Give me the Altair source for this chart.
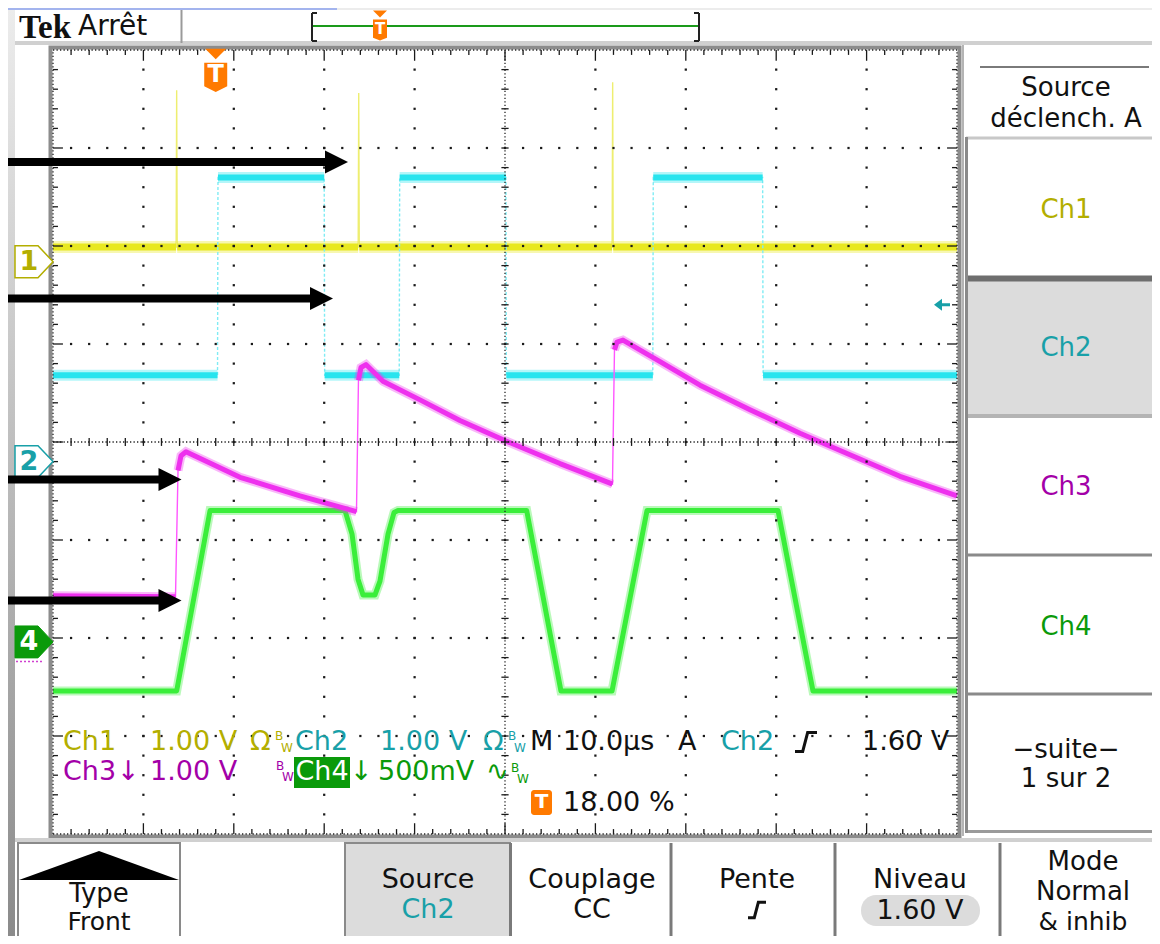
import altair as alt
import numpy as np
import pandas as pd

FONT = "DejaVu Sans"

CHANNELS = ["Ch1", "Ch2", "Ch3", "Ch4"]
VOLTS_PER_DIV = [1.00, 1.00, 1.00, 0.50]
GROUND_DIV = [1.84, -0.20, -2.24, -2.04]      # ground marker positions, divisions from centre
TRIGGER_POS_PCT = 18.0
TRIGGER_LEVEL_V = 1.60

# time in microseconds from the left edge of the screen (10 us/div), volts
ch1_t = [0, 13.62, 13.68, 13.74, 33.76, 33.82, 33.88, 61.85, 61.91, 61.97, 100]
ch1_v = [0.15, 0.15, 1.75, 0.15, 0.15, 1.72, 0.15, 0.15, 1.83, 0.15, 0.15]

ch2_t = [0, 18.2, 18.25, 30.0, 30.05, 38.3, 38.35, 50.1, 50.15, 66.35, 66.4, 78.5, 78.55, 100]
ch2_v = [0.88, 0.88, 2.90, 2.90, 0.88, 0.88, 2.90, 2.90, 0.88, 0.88, 2.90, 2.90, 0.88, 0.88]

ch3_t = [0, 13.55, 13.83, 14.16, 14.71, 20.69, 27.32, 33.57, 33.79, 34.07, 34.62, 36.50, 40.60,
         45.02, 50.11, 56.08, 61.62, 61.89, 62.11, 62.39, 63.05, 67.15, 71.57, 77.10, 82.63,
         88.16, 93.69, 100]
ch3_v = [0.67, 0.66, 1.95, 2.10, 2.14, 1.88, 1.69, 1.53, 2.87, 3.00, 3.03, 2.86, 2.67,
         2.46, 2.25, 2.02, 1.82, 1.81, 3.18, 3.26, 3.28, 3.06, 2.82, 2.57, 2.33,
         2.11, 1.89, 1.69]

ch4_t = [0, 13.68, 17.37, 32.30, 33.08, 33.74, 34.29, 35.62, 36.17, 37.06, 37.72, 38.16,
         52.40, 56.19, 61.84, 65.71, 80.20, 84.07, 100]
ch4_v = [-0.25, -0.25, 0.67, 0.67, 0.55, 0.32, 0.24, 0.24, 0.31, 0.55, 0.66, 0.67,
         0.67, -0.25, -0.25, 0.67, 0.67, -0.25, -0.25]

TRACES = [(ch1_t, ch1_v), (ch2_t, ch2_v), (ch3_t, ch3_v), (ch4_t, ch4_v)]

# ---------------- styling ----------------
OX, OY = 53, 50            # page position of the graticule's top-left corner
W, H = 904, 784
XS = alt.Scale(domain=[0, 100], nice=False, zero=False)
YS = alt.Scale(domain=[-4, 4], nice=False, zero=False)
FAST = 3.0                 # div/us: faster edges are drawn as thin lines

TRACE_COL = ["#e8e820", "#28e4ee", "#ee30ee", "#3aee3a"]
THIN_COL = ["#eeee70", "#80ecf4", "#ff55ff", "#3aee3a"]
CORE_W = [7, 6, 5, 5]
BAND_W = [12, 11, 9, 9]
TXT_COL = ["#b3ae00", "#18a0a8", "#a300a8", "#0a9a0a"]
ORANGE = "#ff7a00"
ONE = pd.DataFrame({"k": [0]})


def X(f="t"):
    return alt.X(f"{f}:Q", scale=XS, axis=None)


def Y(f="d"):
    return alt.Y(f"{f}:Q", scale=YS, axis=None)


def P(x, y):
    return dict(x=alt.value(x - OX), y=alt.value(y - OY))


def text(s, x, y, color="#111111", size=27, align="center", weight="normal", font=FONT,
         baseline="middle"):
    return alt.Chart(ONE).mark_text(text=s, align=align, baseline=baseline, fontSize=size,
                                    font=font, fontWeight=weight, color=color).encode(**P(x, y))


def rect(x1, y1, x2, y2, fill="#ffffff", stroke=None, sw=1, r=0, fo=1):
    kw = dict(fill=fill, fillOpacity=fo)
    if stroke:
        kw.update(stroke=stroke, strokeWidth=sw)
    if r:
        kw["cornerRadius"] = r
    return alt.Chart(ONE).mark_rect(**kw).encode(
        x=alt.value(x1 - OX), x2=alt.value(x2 - OX), y=alt.value(y1 - OY), y2=alt.value(y2 - OY))


def line(x1, y1, x2, y2, color, sw=2, dash=None):
    kw = dict(color=color, strokeWidth=sw)
    if dash:
        kw["strokeDash"] = dash
    return alt.Chart(ONE).mark_rule(**kw).encode(
        x=alt.value(x1 - OX), x2=alt.value(x2 - OX), y=alt.value(y1 - OY), y2=alt.value(y2 - OY))


def sym(path, x, y, width, fill=None, stroke=None, sw=1):
    kw = dict(shape=path, size=width * width, opacity=1)
    if fill:
        kw.update(filled=True, fill=fill)
    else:
        kw.update(filled=False, fill="transparent")
    if stroke:
        kw.update(stroke=stroke, strokeWidth=sw)
    else:
        kw.update(strokeWidth=0)
    return alt.Chart(ONE).mark_point(**kw).encode(**P(x, y))


def trace_frames(t, v, vdiv, gnd):
    d = [gnd + vv / vdiv for vv in v]
    full = pd.DataFrame({"t": t, "d": d, "i": range(len(t))})
    rows, seg, cur = [], 0, [(t[0], d[0])]
    for k in range(1, len(t)):
        dt = t[k] - t[k - 1]
        rate = abs(d[k] - d[k - 1]) / dt if dt > 0 else np.inf
        if rate > FAST:
            if len(cur) > 1:
                rows += [(seg, j, a, b) for j, (a, b) in enumerate(cur)]
                seg += 1
            cur = [(t[k], d[k])]
        else:
            cur.append((t[k], d[k]))
    if len(cur) > 1:
        rows += [(seg, j, a, b) for j, (a, b) in enumerate(cur)]
    slow = pd.DataFrame(rows, columns=["seg", "i", "t", "d"])
    return full, slow


layers = []

# ---------------- chrome backgrounds ----------------
grad = alt.LinearGradient(gradient="linear", x1=0, y1=0, x2=0, y2=1,
                          stops=[alt.GradientStop(color="#ececec", offset=0),
                                 alt.GradientStop(color="#8a8a8a", offset=1)])
layers += [
    rect(0, 0, 1160, 10, "#ececec"),
    rect(0, 0, 337, 10, "#a3b4ee"),
    rect(0, 10, 15, 944, grad),
    rect(15, 41, 1160, 45, "#d0d0d0"),
    line(181.5, 10, 181.5, 43, "#9a9a9a", 2),
    # record bar
    line(312, 26, 699, 26, "#1a9a1a", 2),
    line(312, 13, 312, 41, "#222222", 2), line(312, 13, 317, 13, "#222222", 2),
    line(312, 41, 317, 41, "#222222", 2),
    line(699, 13, 699, 41, "#222222", 2), line(694, 13, 699, 13, "#222222", 2),
    line(694, 41, 699, 41, "#222222", 2),
    # graticule frame
    rect(50.5, 47.5, 959.5, 836.5, "#ffffff", stroke="#8c8c8c", sw=4, fo=0),
    # right side panel
    line(963, 45, 963, 836, "#b4b4b4", 2),
    line(980, 67, 1149, 67, "#7a7a7a", 2),
    rect(966, 281, 1160, 414, "#dcdcdc"),
    line(966, 138, 1160, 138, "#c8c8c8", 3),
    line(966, 278.5, 1160, 278.5, "#6e6e6e", 6),
    line(966, 416, 1160, 416, "#b4b4b4", 4),
    line(966, 555, 1160, 555, "#8a8a8a", 3),
    line(966, 694, 1160, 694, "#8a8a8a", 3),
    line(966, 831.5, 1160, 831.5, "#9a9a9a", 3),
    line(966.5, 137, 966.5, 833, "#8a8a8a", 3),
    # bottom buttons
    line(15, 840, 1160, 840, "#d0d0d0", 4),
    rect(18, 843, 180, 950, "#ffffff", stroke="#8a8a8a", sw=2),
    rect(345, 843, 510, 950, "#dcdcdc", stroke="#8a8a8a", sw=2),
    line(510.5, 843, 510.5, 944, "#7a7a7a", 3),
    line(671, 843, 671, 944, "#7a7a7a", 3),
    line(835, 843, 835, 944, "#7a7a7a", 3),
    line(1000, 843, 1000, 944, "#7a7a7a", 3),
    rect(861, 895, 980, 926, "#dcdcdc", r=15),
]

# ---------------- traces ----------------
for c in [0, 1, 3, 2]:
    t, v = TRACES[c]
    full, slow = trace_frames(t, v, VOLTS_PER_DIV[c], GROUND_DIV[c])
    thin_kw = dict(color=THIN_COL[c], strokeWidth=1.4)
    if c == 1:
        thin_kw["strokeDash"] = [3, 2]
    layers.append(alt.Chart(full).mark_line(**thin_kw).encode(x=X(), y=Y(), order=alt.Order("i:Q")))
    layers.append(alt.Chart(slow).mark_line(color=TRACE_COL[c], strokeWidth=BAND_W[c], opacity=0.35)
                  .encode(x=X(), y=Y(), detail="seg:N", order=alt.Order("i:Q")))
    layers.append(alt.Chart(slow).mark_line(color=TRACE_COL[c], strokeWidth=CORE_W[c], strokeJoin="round")
                  .encode(x=X(), y=Y(), detail="seg:N", order=alt.Order("i:Q")))

# ---------------- graticule ----------------
minor_d = np.round(np.arange(-3.8, 3.81, 0.2), 2)
minor_t = np.arange(2, 99, 2)
dots = [(tt, dd) for tt in [10, 20, 30, 40, 60, 70, 80, 90] for dd in minor_d]
dots += [(tt, dd) for dd in [-3, -2, -1, 1, 2, 3] for tt in minor_t]
dots_df = pd.DataFrame(dots, columns=["t", "d"])
layers.append(alt.Chart(dots_df).mark_square(size=5, color="#1a1a1a", opacity=1).encode(x=X(), y=Y()))

# dense dotted centre lines and edges
lines_df = pd.DataFrame({"t": [50, 0, 0, 0, 0, 100], "t2": [50, 100, 100, 100, 0, 100],
                         "d": [-4, 0, 4, -4, -4, -4], "d2": [4, 0, 4, -4, 4, 4]})
layers.append(alt.Chart(lines_df).mark_rule(color="#222222", strokeWidth=1.3, strokeDash=[1.3, 2.2])
              .encode(x=X(), x2=alt.X2("t2"), y=Y(), y2=alt.Y2("d2")))

ticks = []
for dd in minor_d:                       # centre vertical line ticks
    ticks.append((49.6, 50.4, dd, dd))
for tt in minor_t:                       # centre horizontal line ticks
    ticks.append((tt, tt, -0.04, 0.04))
for tt in minor_t:                       # top & bottom edge ticks
    L = 0.11 if tt % 10 == 0 else 0.05
    ticks.append((tt, tt, 4 - L, 4))
    ticks.append((tt, tt, -4, -4 + L))
for dd in minor_d:                       # left & right edge ticks
    L = 1.1 if abs(dd - round(dd)) < 1e-6 else 0.55
    ticks.append((0, L, dd, dd))
    ticks.append((100 - L, 100, dd, dd))
ticks_df = pd.DataFrame(ticks, columns=["t", "t2", "d", "d2"])
layers.append(alt.Chart(ticks_df).mark_rule(color="#1a1a1a", strokeWidth=1.3)
              .encode(x=X(), x2=alt.X2("t2"), y=Y(), y2=alt.Y2("d2")))

# ---------------- channel markers (ground levels) ----------------
PENT = "M -1 -0.84 L 0.21 -0.84 L 1 0 L 0.21 0.84 L -1 0.84 Z"
mk = pd.DataFrame({"ch": CHANNELS, "d": GROUND_DIV})
for c, label, filled in [(0, "1", False), (1, "2", False), (3, "4", True)]:
    row = mk.iloc[[c]]
    if filled:
        m = alt.Chart(row).mark_point(shape=PENT, size=38 * 38, filled=True, fill=TXT_COL[c],
                                      stroke=TXT_COL[c], strokeWidth=1, opacity=1)
        tc = "#ffffff"
    else:
        m = alt.Chart(row).mark_point(shape=PENT, size=38 * 38, filled=True, fill="#ffffff",
                                      stroke=TXT_COL[c], strokeWidth=1.5, opacity=1)
        tc = TXT_COL[c]
    layers.append(m.encode(x=alt.value(34 - OX), y=Y()))
    layers.append(alt.Chart(row).mark_text(text=label, fontSize=27, font=FONT, fontWeight="bold",
                                           color=tc, baseline="middle", align="center")
                  .encode(x=alt.value(29 - OX), y=Y()))
layers.append(alt.Chart(mk.iloc[[2]]).mark_rule(color="#d040d0", strokeWidth=1.5, strokeDash=[2, 2])
              .encode(x=alt.value(16 - OX), x2=alt.value(42 - OX), y=Y()))

# trigger level marker (Ch2) on the right edge
trig_df = pd.DataFrame({"d": [GROUND_DIV[1] + TRIGGER_LEVEL_V / VOLTS_PER_DIV[1]]})
layers.append(alt.Chart(trig_df).mark_point(
    shape="M -1 0 L 0 -0.75 L 0 0.75 Z M 0 -0.18 L 1 -0.18 L 1 0.18 L 0 0.18 Z",
    size=256, filled=True, fill="#18a0a8", strokeWidth=0, opacity=1)
    .encode(x=alt.value(942 - OX), y=Y()))

# trigger position marker at the top of the graticule
tpos = pd.DataFrame({"t": [TRIGGER_POS_PCT]})
layers.append(alt.Chart(tpos).mark_point(shape="M -1 -0.5 L 1 -0.5 L 0 0.5 Z", size=441, filled=True,
                                         fill=ORANGE, strokeWidth=0, opacity=1)
              .encode(x=X(), y=alt.value(54 - OY)))
layers.append(alt.Chart(tpos).mark_point(shape="M -1 -1.25 L 1 -1.25 L 1 0.8 L 0 1.3 L -1 0.8 Z",
                                         size=529, filled=True, fill=ORANGE, strokeWidth=0, opacity=1)
              .encode(x=X(), y=alt.value(77 - OY)))
layers.append(alt.Chart(tpos).mark_text(text="T", fontSize=24, font=FONT, fontWeight="bold",
                                        color="#ffffff", baseline="middle")
              .encode(x=X(), y=alt.value(75 - OY)))

# record-bar trigger marker
layers += [
    sym("M -1 -0.5 L 1 -0.5 L 0 0.5 Z", 380, 14, 14, fill=ORANGE),
    sym("M -1 -1.5 L 1 -1.5 L 1 1.1 L 0 1.5 L -1 1.1 Z", 380, 30, 14, fill=ORANGE),
    text("T", 380, 29, "#ffffff", 15, weight="bold"),
]

# ---------------- annotation arrows ----------------
ARROW = "M -1 -1 L 1 0 L -1 1 Z"
for (y, xb) in [(162, 325), (298.5, 310), (479.5, 158.5), (600.5, 158.5)]:
    layers.append(line(0, y, xb + 2, y, "#000000", 8))
    layers.append(sym(ARROW, xb + 11.5, y, 23, fill="#000000"))

# ---------------- readout ----------------
EDGE = "M -1 0.86 L -0.3 0.86 L 0.15 -0.86 L 1 -0.86"
r1, r2, r3 = 742, 772, 803
layers += [
    text("Ch1", 63, r1, TXT_COL[0], align="left"),
    text("1.00 V", 150, r1, TXT_COL[0], align="left"),
    text("Ω", 250, r1, TXT_COL[0], align="left"),
    text("B", 275, r1 - 6, TXT_COL[0], 12, align="left"),
    text("W", 281, r1 + 6, TXT_COL[0], 12, align="left"),
    text("Ch2", 295, r1, TXT_COL[1], align="left"),
    text("1.00 V", 380, r1, TXT_COL[1], align="left"),
    text("Ω", 483, r1, TXT_COL[1], align="left"),
    text("B", 508, r1 - 6, TXT_COL[1], 12, align="left"),
    text("W", 514, r1 + 6, TXT_COL[1], 12, align="left"),
    text("M", 530, r1, "#111111", align="left"),
    text("10.0µs", 563, r1, "#111111", align="left"),
    text("A", 678, r1, "#111111", align="left"),
    text("Ch2", 721, r1, TXT_COL[1], align="left"),
    sym(EDGE, 806, r1, 22, stroke="#111111", sw=3),
    text("1.60 V", 862, r1, "#111111", align="left"),
    text("Ch3", 63, r2, TXT_COL[2], align="left"),
    text("↓", 117, r2, TXT_COL[2], align="left"),
    text("1.00 V", 150, r2, TXT_COL[2], align="left"),
    text("B", 276, r2 - 6, TXT_COL[2], 12, align="left"),
    text("W", 282, r2 + 5, TXT_COL[2], 12, align="left"),
    rect(294, 757, 350, 788, TXT_COL[3]),
    text("Ch4", 322, r2, "#ffffff"),
    text("↓", 350, r2, TXT_COL[3], align="left"),
    text("500mV", 378, r2, TXT_COL[3], align="left"),
    text("∿", 486, r2, TXT_COL[3], align="left"),
    text("B", 511, r2 - 4, TXT_COL[3], 12, align="left"),
    text("W", 517, r2 + 7, TXT_COL[3], 12, align="left"),
    rect(531, 790, 552, 815, ORANGE, r=3),
    text("T", 541.5, r3 - 1, "#ffffff", 20, weight="bold"),
    text("18.00 %", 563, r3, "#111111", align="left"),
]

# ---------------- top bar / panels text ----------------
layers += [
    text("Tek", 19, 38, "#111111", 33, align="left", weight="bold", font="Liberation Serif",
         baseline="alphabetic"),
    text("Arrêt", 78, 35, "#111111", 28, align="left", baseline="alphabetic"),
    text("Source", 1066, 88, size=26),
    text("déclench. A", 1066, 119, size=26),
    text("Ch1", 1066, 210, TXT_COL[0], 26),
    text("Ch2", 1066, 348, TXT_COL[1], 26),
    text("Ch3", 1066, 487, TXT_COL[2], 26),
    text("Ch4", 1066, 627, TXT_COL[3], 26),
    text("−suite−", 1066, 750, size=26),
    text("1 sur 2", 1066, 779, size=26),
    sym("M -1 0.18 L 0 -0.18 L 1 0.18 Z", 99, 865.5, 160, fill="#000000"),
    text("Type", 99, 894, size=26),
    text("Front", 99, 922, size=25),
    text("Source", 428, 880),
    text("Ch2", 428, 910, TXT_COL[1]),
    text("Couplage", 592, 880),
    text("CC", 592, 910),
    text("Pente", 757, 880),
    sym(EDGE, 757, 910, 18, stroke="#111111", sw=3),
    text("Niveau", 920, 880),
    text("1.60 V", 920, 911),
    text("Mode", 1083, 862, size=26),
    text("Normal", 1083, 892, size=26),
    text("& inhib", 1083, 922, size=25),
]

chart = alt.layer(*layers).properties(
    width=W, height=H,
    padding={"left": 45, "top": 42, "right": 195, "bottom": 102},
    autosize=alt.AutoSizeParams(type="none"),
).configure_view(strokeWidth=0)

chart.save("out.html", embed_options={"renderer": "svg", "actions": False})
